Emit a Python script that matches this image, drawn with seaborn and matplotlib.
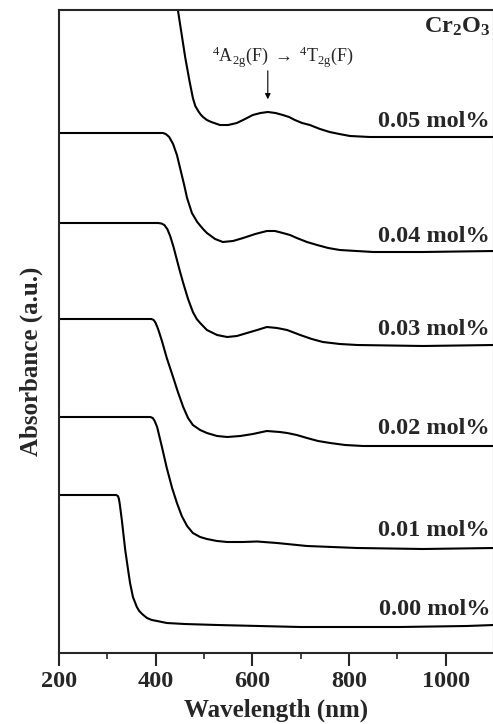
import matplotlib
matplotlib.use("Agg")
import matplotlib.pyplot as plt
import seaborn as sns
import pandas as pd
from matplotlib.ticker import MultipleLocator

# UV-Vis absorbance spectra of Cr2O3-doped samples (curves stacked with offsets, a.u.)
wl_000 = [200, 318, 322, 324, 326, 330, 337, 343, 347, 353, 361, 366, 372, 382, 392, 403, 423, 460,
          527, 699, 905, 1044, 1100]
ab_000 = [1.58, 1.58, 1.57, 1.54, 1.48, 1.33, 1.03, 0.83, 0.70, 0.56, 0.46, 0.42, 0.39, 0.35, 0.33,
          0.32, 0.30, 0.29, 0.28, 0.26, 0.26, 0.27, 0.28]

wl_001 = [200, 389, 394, 398, 403, 413, 423, 434, 444, 454, 465, 477, 492, 506, 527, 548, 580, 610,
          651, 713, 817, 953, 1100]
ab_001 = [2.36, 2.36, 2.35, 2.32, 2.26, 2.06, 1.85, 1.65, 1.50, 1.37, 1.27, 1.20, 1.16, 1.14, 1.12,
          1.11, 1.11, 1.115, 1.10, 1.07, 1.05, 1.04, 1.05]

wl_002 = [200, 391, 396, 400, 405, 413, 423, 436, 446, 457, 467, 477, 492, 506, 527, 548, 575, 601,
          630, 657, 672, 692, 713, 736, 761, 792, 829, 953, 1100]
ab_002 = [3.34, 3.34, 3.33, 3.30, 3.24, 3.12, 2.95, 2.76, 2.61, 2.46, 2.35, 2.28, 2.23, 2.20, 2.17,
          2.16, 2.17, 2.19, 2.22, 2.21, 2.20, 2.18, 2.15, 2.12, 2.10, 2.08, 2.07, 2.07, 2.07]

wl_003 = [200, 405, 412, 418, 424, 430, 437, 444, 450, 457, 467, 477, 485, 492, 506, 527, 548, 568,
          589, 610, 630, 651, 672, 699, 723, 746, 781, 817, 953, 1100]
ab_003 = [4.30, 4.30, 4.295, 4.28, 4.24, 4.17, 4.06, 3.93, 3.82, 3.70, 3.54, 3.41, 3.34, 3.30, 3.23,
          3.18, 3.16, 3.17, 3.20, 3.23, 3.26, 3.25, 3.23, 3.18, 3.14, 3.11, 3.09, 3.08, 3.07, 3.08]

wl_004 = [200, 415, 421, 428, 436, 444, 450, 459, 465, 475, 486, 498, 506, 523, 539, 560, 581, 606,
          630, 647, 663, 678, 692, 713, 734, 757, 781, 850, 953, 1100]
ab_004 = [5.20, 5.20, 5.19, 5.16, 5.09, 4.98, 4.86, 4.68, 4.55, 4.40, 4.31, 4.24, 4.20, 4.14, 4.11,
          4.12, 4.15, 4.19, 4.22, 4.22, 4.20, 4.18, 4.15, 4.11, 4.08, 4.05, 4.03, 4.01, 4.01, 4.02]

wl_005 = [430, 446, 461, 470, 477, 482, 488, 493, 498, 506, 515, 533, 550, 568, 585, 601, 617, 632,
          648, 663, 676, 688, 703, 719, 740, 760, 780, 802, 843, 912, 1015, 1100]
ab_005 = [7.00, 6.43, 5.96, 5.72, 5.55, 5.47, 5.42, 5.385, 5.36, 5.33, 5.31, 5.28, 5.28, 5.30, 5.34,
          5.38, 5.40, 5.41, 5.40, 5.38, 5.36, 5.33, 5.30, 5.28, 5.24, 5.21, 5.19, 5.17, 5.16, 5.16,
          5.16, 5.16]

labels = ["0.00 mol%", "0.01 mol%", "0.02 mol%", "0.03 mol%", "0.04 mol%", "0.05 mol%"]
label_y = [0.38, 1.17, 2.19, 3.18, 4.11, 5.26]

sns.set_style("ticks")
plt.rcParams["font.family"] = ["Liberation Serif", "DejaVu Serif"]
plt.rcParams["mathtext.fontset"] = "custom"
plt.rcParams["mathtext.rm"] = "Liberation Serif"
plt.rcParams["mathtext.bf"] = "Liberation Serif:bold"
plt.rcParams["mathtext.it"] = "Liberation Serif:italic"
plt.rcParams["mathtext.default"] = "regular"

fig = plt.figure(figsize=(4.93, 7.24), dpi=100)
ax = fig.add_axes([59 / 493, 1 - 653 / 724, 1 - 59 / 493 + 0.002, (653 - 10) / 724])

curves = [(wl_000, ab_000), (wl_001, ab_001), (wl_002, ab_002),
          (wl_003, ab_003), (wl_004, ab_004), (wl_005, ab_005)]
for wl, ab in curves:
    df = pd.DataFrame({"wl": wl, "ab": ab})
    sns.lineplot(data=df, x="wl", y="ab", ax=ax, color="black", lw=1.5,
                 sort=False, estimator=None)

for lab, y in zip(labels, label_y):
    ax.text(1092, y, lab, ha="right", va="baseline", fontsize=17.5, fontweight="bold")

ax.text(1092, 6.20, r"$\mathbf{Cr_2O_3}$", ha="right", va="baseline", fontsize=17.5)
ax.text(663, 5.91, r"$^4$A$_{2g}$(F) $\rightarrow$ $^4$T$_{2g}$(F)",
        ha="center", va="baseline", fontsize=13)
ax.annotate("", xy=(632, 5.51), xytext=(632, 5.85),
            arrowprops=dict(arrowstyle="-|>", color="black", lw=0.8, mutation_scale=8))

ax.set_xlim(200, 1100)
ax.set_ylim(0, 6.43)
ax.xaxis.set_major_locator(MultipleLocator(200))
ax.xaxis.set_minor_locator(MultipleLocator(100))
ax.set_yticks([])
ax.tick_params(axis="x", which="major", direction="out", length=9, width=1.5,
               labelsize=17.5, pad=4)
ax.tick_params(axis="x", which="minor", direction="out", length=4, width=1.2)
for lbl in ax.get_xticklabels():
    lbl.set_fontweight("bold")
for sp in ax.spines.values():
    sp.set_visible(True)
    sp.set_linewidth(1.5)

ax.set_xlabel("Wavelength (nm)", fontsize=18, fontweight="bold", labelpad=5)
ax.set_ylabel("Absorbance (a.u.)", fontsize=18, fontweight="bold")
ax.yaxis.set_label_coords(-0.036, 0.453)

fig.savefig("out.png", dpi=100)
